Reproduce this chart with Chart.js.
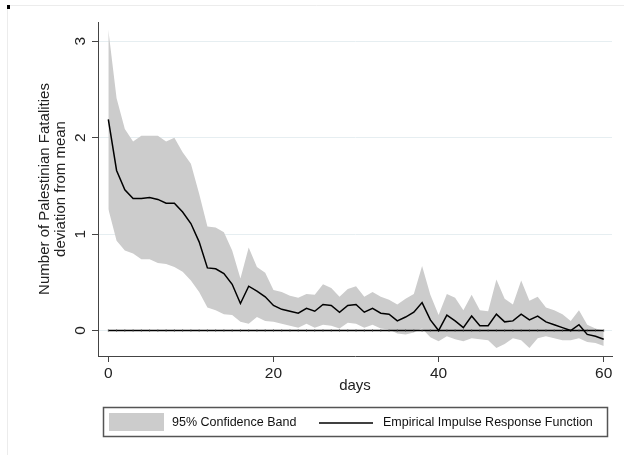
<!DOCTYPE html>
<html>
<head>
<meta charset="utf-8">
<script src="https://cdn.jsdelivr.net/npm/chart.js@4/dist/chart.umd.min.js"></script>
<style>
  html, body { margin: 0; padding: 0; background: #fff; }
  #wrap { width: 624px; height: 455px; }
</style>
</head>
<body>
<div id="wrap"><canvas id="mycanvas" width="624" height="455"></canvas></div>
<script>
// days after the shock
var days = [];
for (var d = 0; d <= 60; d++) days.push(d);

// impulse response
var irf = [2.19, 1.66, 1.46, 1.37, 1.37, 1.38, 1.36, 1.32, 1.32, 1.23,
  1.11, 0.92, 0.65, 0.64, 0.59, 0.48, 0.28, 0.46, 0.41, 0.35,
  0.26, 0.22, 0.20, 0.18, 0.23, 0.20, 0.27, 0.26, 0.19, 0.26,
  0.27, 0.19, 0.23, 0.18, 0.17, 0.10, 0.14, 0.19, 0.29, 0.11,
  0.00, 0.16, 0.10, 0.03, 0.15, 0.05, 0.05, 0.17, 0.09, 0.10,
  0.17, 0.11, 0.15, 0.09, 0.06, 0.03, 0.00, 0.06, -0.04, -0.06,
  -0.09];

var upper = [3.12, 2.41, 2.09, 1.96, 2.02, 2.02, 2.02, 1.96, 2.00, 1.85,
  1.73, 1.42, 1.08, 1.07, 1.02, 0.83, 0.54, 0.86, 0.66, 0.60,
  0.42, 0.40, 0.36, 0.34, 0.38, 0.37, 0.48, 0.44, 0.35, 0.43,
  0.46, 0.35, 0.40, 0.35, 0.32, 0.27, 0.33, 0.38, 0.67, 0.37,
  0.16, 0.38, 0.34, 0.21, 0.37, 0.21, 0.20, 0.53, 0.33, 0.27,
  0.52, 0.31, 0.35, 0.24, 0.21, 0.17, 0.10, 0.21, 0.06, 0.02,
  0.00];

var lower = [1.26, 0.93, 0.83, 0.80, 0.74, 0.74, 0.70, 0.69, 0.66, 0.61,
  0.52, 0.40, 0.24, 0.21, 0.17, 0.16, 0.09, 0.07, 0.14, 0.10,
  0.09, 0.07, 0.05, 0.03, 0.07, 0.03, 0.06, 0.05, 0.02, 0.08,
  0.07, 0.03, 0.06, 0.02, 0.01, -0.03, -0.04, -0.02, 0.02, -0.07,
  -0.11, -0.06, -0.09, -0.11, -0.08, -0.09, -0.10, -0.18, -0.14, -0.08,
  -0.10, -0.18, -0.08, -0.06, -0.08, -0.10, -0.10, -0.08, -0.12, -0.13,
  -0.16];

var zero = days.map(function(){ return 0; });

var yTicks = [0, 1, 2, 3];
var xTicks = [0, 20, 40, 60];

var FONT = "'Liberation Sans', Arial, Helvetica, sans-serif";
var BAND = '#cccccc';

function pts(arr) {
  return days.map(function(d, i){ return { x: d, y: arr[i] }; });
}

// stata-ish extras: rotated y labels, legend box, outer frame
var decor = {
  id: 'decor',
  afterDraw: function(chart) {
    var ctx = chart.ctx;
    var ys = chart.scales.y;
    ctx.save();

    // outer frame
    ctx.strokeStyle = '#ececec';
    ctx.lineWidth = 1;
    ctx.beginPath();
    ctx.moveTo(7.5, 460); ctx.lineTo(7.5, 5.5); ctx.lineTo(630, 5.5);
    ctx.stroke();
    ctx.fillStyle = '#000';
    ctx.fillRect(7, 5, 3, 4);

    // y tick labels, rotated
    ctx.fillStyle = '#222';
    ctx.font = '15.5px ' + FONT;
    ctx.textAlign = 'center';
    ctx.textBaseline = 'middle';
    yTicks.forEach(function(v){
      var py = ys.getPixelForValue(v);
      ctx.save();
      ctx.translate(81, py);
      ctx.rotate(-Math.PI / 2);
      ctx.fillText(String(v), 0, 0);
      ctx.restore();
    });

    // legend
    var ds = chart.data.datasets;
    ctx.strokeStyle = '#555';
    ctx.lineWidth = 1.5;
    ctx.strokeRect(103.5, 407.5, 504, 29);
    ctx.fillStyle = BAND;
    ctx.fillRect(109, 413, 55, 18);
    ctx.strokeStyle = '#000';
    ctx.lineWidth = 1.5;
    ctx.beginPath();
    ctx.moveTo(319, 423); ctx.lineTo(373, 423);
    ctx.stroke();
    ctx.fillStyle = '#111';
    ctx.font = '12.5px ' + FONT;
    ctx.textAlign = 'left';
    ctx.fillText(ds[3].label, 172, 423);
    ctx.fillText(ds[0].label, 383, 423);

    ctx.restore();
  }
};

var ctx = document.getElementById('mycanvas');

var chart = new Chart(ctx, {
  type: 'line',
  data: {
    datasets: [
      {
        label: 'Empirical Impulse Response Function',
        data: pts(irf),
        borderColor: '#000',
        borderWidth: 1.5,
        pointRadius: 0,
        fill: false,
        tension: 0
      },
      {
        label: 'zero',
        data: pts(zero),
        borderColor: '#000',
        borderWidth: 1.5,
        pointStyle: 'line',
        pointRotation: 90,
        pointRadius: 1.4,
        pointBorderWidth: 0.6,
        pointBorderColor: '#555',
        fill: false
      },
      {
        label: 'upper',
        data: pts(upper),
        borderWidth: 0,
        borderColor: 'rgba(0,0,0,0)',
        pointRadius: 0,
        fill: false
      },
      {
        label: '95% Confidence Band',
        data: pts(lower),
        borderWidth: 0,
        borderColor: 'rgba(0,0,0,0)',
        backgroundColor: BAND,
        pointRadius: 0,
        fill: '-1'
      }
    ]
  },
  options: {
    responsive: false,
    animation: false,
    layout: { padding: { top: 22, right: 12, bottom: 59, left: 0 } },
    plugins: {
      legend: { display: false },
      tooltip: { enabled: false }
    },
    scales: {
      x: {
        type: 'linear',
        min: -1.25,
        max: 61,
        afterFit: function(s){ s.height = 40; },
        afterBuildTicks: function(s){ s.ticks = xTicks.map(function(v){ return { value: v }; }); },
        ticks: {
          color: '#222',
          font: { family: FONT, size: 15.5 },
          padding: 2,
          maxRotation: 0
        },
        grid: {
          drawOnChartArea: false,
          tickColor: '#444',
          tickLength: 6
        },
        border: { color: '#444', width: 1 },
        title: {
          display: true,
          text: 'days',
          color: '#222',
          font: { family: FONT, size: 15 },
          padding: { top: 0, bottom: 1 }
        }
      },
      y: {
        type: 'linear',
        min: -0.264,
        max: 3.2,
        afterFit: function(s){ s.width = 98; },
        afterBuildTicks: function(s){ s.ticks = yTicks.map(function(v){ return { value: v }; }); },
        ticks: { display: false },
        grid: {
          color: '#e6eef1',
          lineWidth: 1,
          tickColor: '#444',
          tickLength: 6
        },
        border: { color: '#444', width: 1 },
        title: {
          display: true,
          text: ['Number of Palestinian Fatalities', 'deviation from mean'],
          color: '#222',
          font: { family: FONT, size: 15, lineHeight: 1.05 },
          padding: { top: 37, bottom: 0 }
        }
      }
    }
  },
  plugins: [decor]
});
</script>
</body>
</html>
